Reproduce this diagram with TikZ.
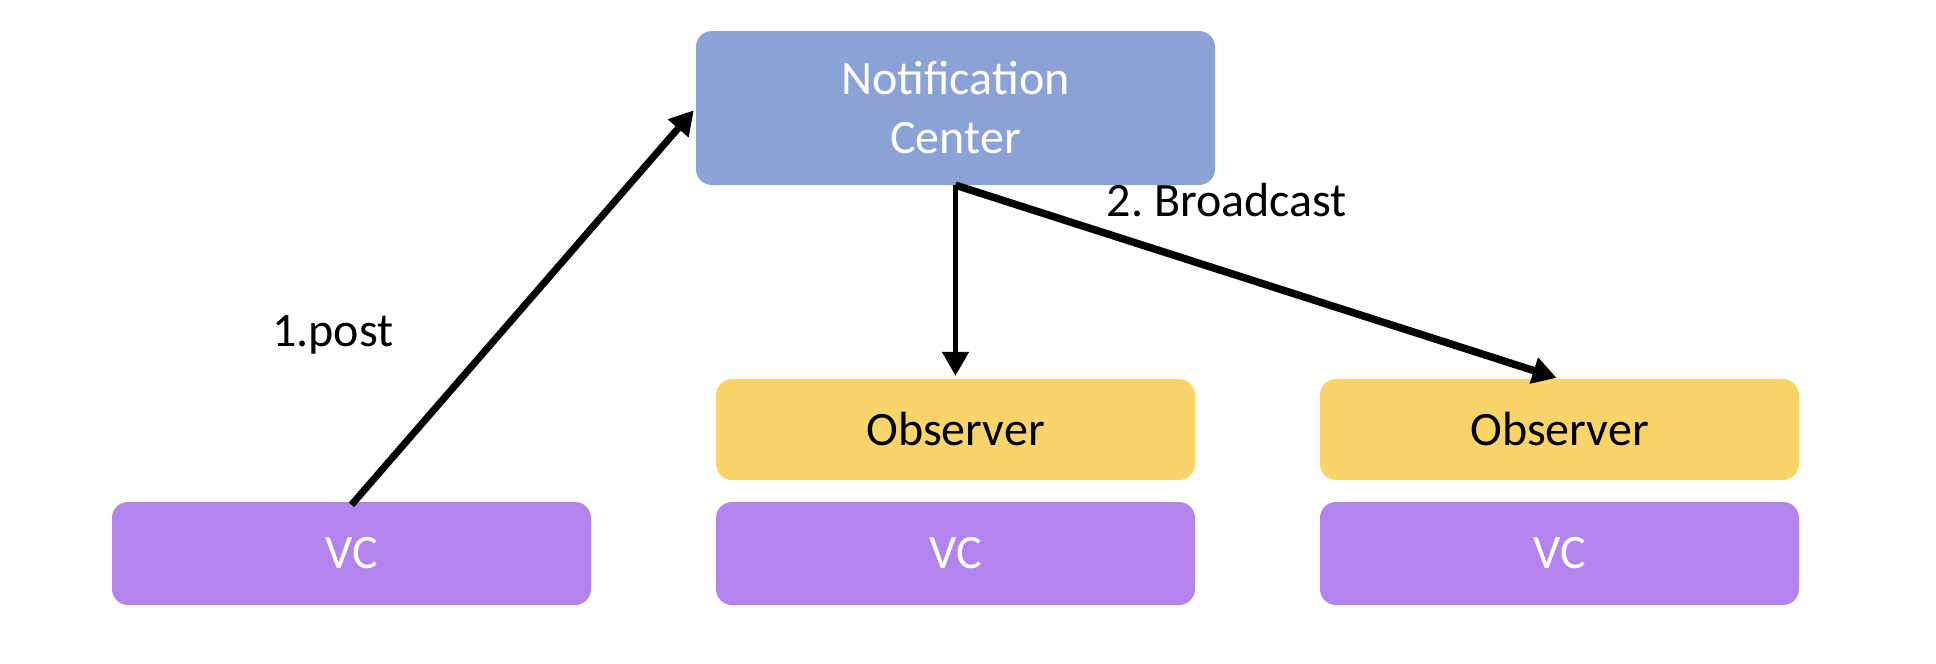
\documentclass[tikz,border=0pt]{standalone}
\usepackage{fontspec}
\setmainfont{Carlito}
\usetikzlibrary{arrows.meta}
\frenchspacing
\definecolor{ncblue}{RGB}{138,162,214}
\definecolor{obsyellow}{RGB}{248,212,106}
\definecolor{vcpurple}{RGB}{179,132,238}
\tikzset{
  box/.style={rectangle, rounded corners=16pt, draw=none, minimum width=479pt, inner sep=0pt,
    font=\fontsize{48}{59}\selectfont, align=center},
  ncbox/.style={box, fill=ncblue, text=white, minimum width=519pt, minimum height=154pt},
  obsbox/.style={box, fill=obsyellow, text=black, minimum height=101pt},
  vcbox/.style={box, fill=vcpurple, text=white, minimum height=103pt},
  arr/.style={draw=black, -{Triangle[length=24pt,width=26pt]}},
  lbl/.style={font=\fontsize{48}{59}\selectfont, text=black, inner sep=0pt}
}
\begin{document}
\begin{tikzpicture}[x=1pt,y=-1pt]
\useasboundingbox (0,0) rectangle (1936,664);
\node[ncbox] (nc) at (955.5,108) {Notification\\Center};
\node[vcbox] (vcl) at (351.5,553.5) {VC};
\node[obsbox] (obsm) at (955.5,429.5) {Observer};
\node[vcbox] (vcm) at (955.5,553.5) {VC};
\node[obsbox] (obsr) at (1559.5,429.5) {Observer};
\node[vcbox] (vcr) at (1559.5,553.5) {VC};
\draw[arr, line width=7pt, shorten >=3pt] ([yshift=-3pt]vcl.north) -- (nc.west);
\draw[arr, line width=5pt, shorten >=3pt] (nc.south) -- (obsm.north);
\draw[arr, line width=7.5pt, shorten >=3pt] (nc.south) -- (obsr.north);
\node[lbl] (postlbl) at (333,335) {1.post};
\node[lbl] (bclbl) at (1227,200) {2. Broadcast};
\end{tikzpicture}
\end{document}
